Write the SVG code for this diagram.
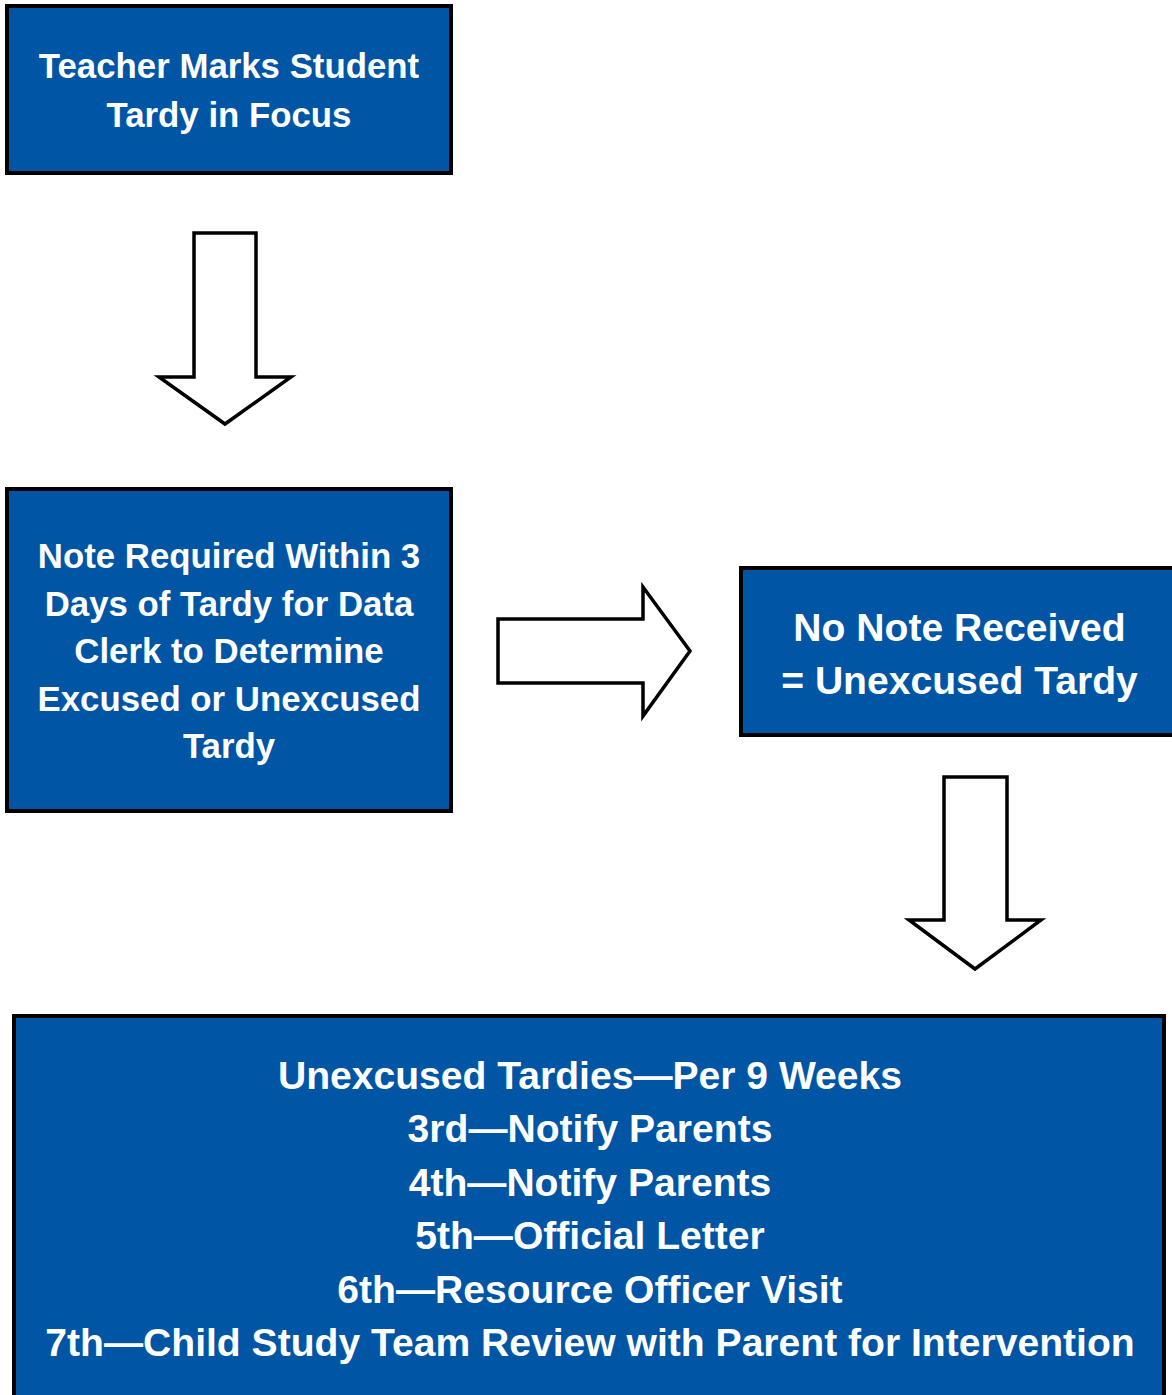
<svg xmlns="http://www.w3.org/2000/svg" width="1172" height="1395" viewBox="0 0 1172 1395">
<style>
.box{fill:#0055A5;stroke:#000;stroke-width:4}
.arrow{fill:#fff;stroke:#000;stroke-width:3.5;stroke-linejoin:miter}
.t{fill:#fff;font-family:"Liberation Sans",Arial,sans-serif;font-weight:bold;text-anchor:middle}
.s34{font-size:34.8px}
.s39{font-size:39.1px}
</style>
<rect width="1172" height="1395" fill="#fff"/>
<g id="connectors">
<polygon class="arrow" points="194,233 256,233 256,377 291,377 225,424 159,377 194,377"/>
<polygon class="arrow" points="498,619 643,619 643,587 690,651 643,716 643,683 498,683"/>
<polygon class="arrow" points="944,777 1007,777 1007,920 1041,920 975,969 909,920 944,920"/>
</g>
<g id="node-teacher">
<rect class="box" x="7" y="6" width="444" height="167"/>
<text class="t s34" x="229" y="78">Teacher Marks Student</text>
<text class="t s34" x="229" y="127">Tardy in Focus</text>
</g>
<g id="node-note">
<rect class="box" x="7" y="489" width="444" height="322"/>
<text class="t s34" x="229" y="568">Note Required Within 3</text>
<text class="t s34" x="229" y="616">Days of Tardy for Data</text>
<text class="t s34" x="229" y="663">Clerk to Determine</text>
<text class="t s34" x="229" y="711">Excused or Unexcused</text>
<text class="t s34" x="229" y="758">Tardy</text>
</g>
<g id="node-nonote">
<rect class="box" x="741" y="568" width="440" height="167"/>
<text class="t s39" x="959.5" y="641">No Note Received</text>
<text class="t s39" x="959.5" y="694">= Unexcused Tardy</text>
</g>
<g id="node-tardies">
<rect class="box" x="14" y="1016" width="1150" height="400"/>
<text class="t s39" x="590" y="1089">Unexcused Tardies—Per 9 Weeks</text>
<text class="t s39" x="590" y="1142">3rd—Notify Parents</text>
<text class="t s39" x="590" y="1196">4th—Notify Parents</text>
<text class="t s39" x="590" y="1249">5th—Official Letter</text>
<text class="t s39" x="590" y="1303">6th—Resource Officer Visit</text>
<text class="t s39" x="590" y="1356">7th—Child Study Team Review with Parent for Intervention</text>
</g>
</svg>
